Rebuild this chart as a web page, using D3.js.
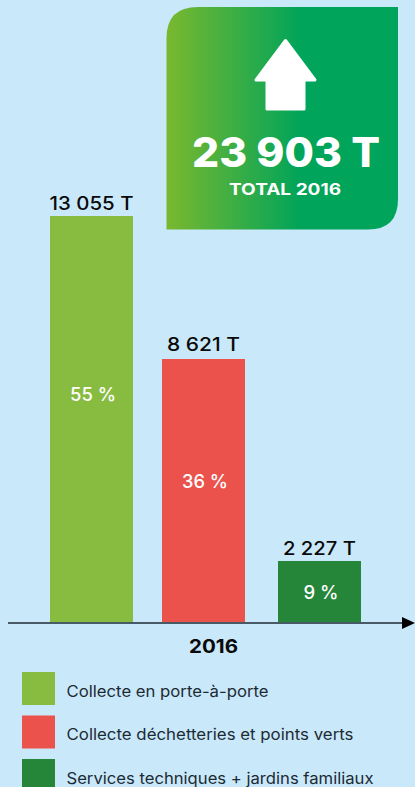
<html>
  <head>
    <meta charset="utf-8" />
    <script src="https://d3js.org/d3.v7.min.js"></script>
    <style>
      body { margin: 0; background: #c9e8fa; overflow: hidden; }
      svg { display: block; }
      text { font-family: Inter, "Open Sans", sans-serif; }
    </style>
  </head>
  <body>
    <div id="chart"></div>
    <script>
      const categories = ["Collecte en porte-à-porte", "Collecte déchetteries et points verts", "Services techniques + jardins familiaux"];
      const tonnes = [13055, 8621, 2227];
      const tonnesLabels = ["13 055 T", "8 621 T", "2 227 T"];
      const percents = ["55 %", "36 %", "9 %"];
      const colors = ["#88bc41", "#eb524c", "#25863a"];
      const yearLabel = "2016";
      const totalLabel = "23 903 T";
      const totalCaption = "TOTAL 2016";

      const svg = d3.select("#chart").append("svg").attr("width", 415).attr("height", 787);

      // les barres ne sont pas tout a fait proportionnelles dans l'original
      const y = d3.scaleLinear().domain([0, 2227, 8621, 13055]).range([622, 561, 359, 216]);
      const x = d3.scaleOrdinal().domain(categories).range([50, 162, 278]);
      const barW = 83;

      // reglages des textes (la police d'origine est plus large, on etire avec textLength)
      const labelGap = [6, 8, 6];
      const labelLen = [84, 73, 73];
      const percentShift = [-25, -10, 0];
      const percentLen = [46, 46, 35];
      const legendLen = [202, 287, 307];

      const defs = svg.append("defs");
      const grad = defs.append("linearGradient").attr("id", "vert");
      grad.append("stop").attr("offset", "0%").attr("stop-color", "#7ab82e");
      grad.append("stop").attr("offset", "58%").attr("stop-color", "#00a45a");
      grad.append("stop").attr("offset", "100%").attr("stop-color", "#00a45a");

      // carte du total, coins arrondis en haut a gauche et en bas a droite
      const card = d3.path();
      card.moveTo(198, 7);
      card.lineTo(398, 7);
      card.lineTo(398, 199);
      card.quadraticCurveTo(398, 229.5, 368, 229.5);
      card.lineTo(166.5, 229.5);
      card.lineTo(166.5, 38);
      card.quadraticCurveTo(166.5, 7, 198, 7);
      card.closePath();
      svg.append("path").attr("d", card.toString()).attr("fill", "url(#vert)");

      // fleche
      const arrow = d3.path();
      arrow.moveTo(285.5, 40.5);
      arrow.lineTo(315, 80);
      arrow.lineTo(304, 80);
      arrow.lineTo(304, 109);
      arrow.lineTo(267, 109);
      arrow.lineTo(267, 80);
      arrow.lineTo(256, 80);
      arrow.closePath();
      svg.append("path").attr("d", arrow.toString())
        .attr("fill", "#fff").attr("stroke", "#fff")
        .attr("stroke-width", 3).attr("stroke-linejoin", "round");

      svg.append("text").text(totalLabel)
        .attr("x", 286).attr("y", 167).attr("text-anchor", "middle")
        .attr("textLength", 188).attr("lengthAdjust", "spacingAndGlyphs")
        .attr("font-size", 41).attr("font-weight", 800).attr("fill", "#fff");
      svg.append("text").text(totalCaption)
        .attr("x", 285).attr("y", 195).attr("text-anchor", "middle")
        .attr("textLength", 112).attr("lengthAdjust", "spacingAndGlyphs")
        .attr("font-size", 16).attr("font-weight", 700).attr("fill", "#fff");

      const bars = svg.selectAll("g.bar").data(categories).enter().append("g").attr("class", "bar");
      bars.append("rect")
        .attr("x", d => x(d))
        .attr("y", (d, i) => y(tonnes[i]))
        .attr("width", barW)
        .attr("height", (d, i) => y(0) - y(tonnes[i]))
        .attr("fill", (d, i) => colors[i]);
      bars.append("text").text((d, i) => tonnesLabels[i])
        .attr("x", d => x(d) + barW / 2)
        .attr("y", (d, i) => y(tonnes[i]) - labelGap[i])
        .attr("text-anchor", "middle")
        .attr("textLength", (d, i) => labelLen[i]).attr("lengthAdjust", "spacingAndGlyphs")
        .attr("font-size", 18.5).attr("font-weight", 500).attr("fill", "#0a0a0a");
      bars.append("text").text((d, i) => percents[i])
        .attr("x", d => x(d) + barW / 2 + 1.5)
        .attr("y", (d, i) => (y(tonnes[i]) + y(0)) / 2 + 7 + percentShift[i])
        .attr("text-anchor", "middle")
        .attr("textLength", (d, i) => percentLen[i]).attr("lengthAdjust", "spacingAndGlyphs")
        .attr("font-size", 18).attr("font-weight", 500).attr("fill", "#fff");

      // axe avec sa fleche
      svg.append("line").attr("x1", 8).attr("x2", 404).attr("y1", 623).attr("y2", 623)
        .attr("stroke", "#1c2b33").attr("stroke-width", 1.5);
      svg.append("path").attr("d", d3.line()([[402, 617], [415, 623], [402, 629]]) + "Z").attr("fill", "#000");
      svg.append("text").text(yearLabel)
        .attr("x", 213.5).attr("y", 653).attr("text-anchor", "middle")
        .attr("textLength", 49).attr("lengthAdjust", "spacingAndGlyphs")
        .attr("font-size", 18.5).attr("font-weight", 700).attr("fill", "#0a0a0a");

      // legende
      const legendY = d3.scalePoint().domain(categories).range([672, 759]);
      const legend = svg.selectAll("g.legend").data(categories).enter().append("g").attr("class", "legend");
      legend.append("rect")
        .attr("x", 22).attr("y", d => legendY(d))
        .attr("width", 33).attr("height", 33)
        .attr("fill", (d, i) => colors[i]);
      legend.append("text").text(d => d)
        .attr("x", 66.5).attr("y", d => legendY(d) + 24.5)
        .attr("textLength", (d, i) => legendLen[i]).attr("lengthAdjust", "spacingAndGlyphs")
        .attr("font-size", 15.5).attr("fill", "#1c2b33");
    </script>
  </body>
</html>
